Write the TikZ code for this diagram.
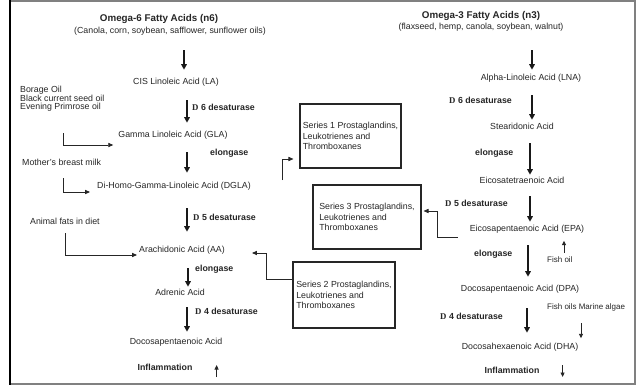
\documentclass[tikz,border=0pt]{standalone}
\usepackage{fontspec}
\setmainfont{Liberation Sans}
\newfontfamily\dfont{Liberation Serif}
\usetikzlibrary{arrows.meta}
\begin{document}
\begin{tikzpicture}[x=1pt,y=-1pt,
  t/.style={font=\fontsize{8.8}{10}\selectfont, inner sep=0pt, text=black!85, text height=6.4pt, text depth=1.8pt},
  tb/.style={t, font=\fontsize{8.8}{10}\selectfont\bfseries},
  tsm/.style={t, font=\fontsize{8}{9}\selectfont},
  ttl/.style={t, font=\fontsize{9.8}{11}\selectfont\bfseries},
  grp/.style={font=\fontsize{8.8}{7.8}\selectfont, inner sep=0pt, text=black!85, align=left},
  sbox/.style={draw=black!85, line width=1.1pt, font=\fontsize{8.8}{10.2}\selectfont, text=black!85, align=left, inner sep=0pt},
  arr/.style={draw=black!90, line width=1.6pt, -{Triangle[length=5.5pt,width=5.5pt]}},
  elb/.style={draw=black!85, line width=0.9pt, -{Triangle[length=5pt,width=4.2pt]}},
  sarr/.style={draw=black!85, line width=0.9pt, -{Triangle[length=4.5pt,width=4pt]}}
]
\useasboundingbox (0,0) rectangle (636,385);
\fill[white] (0,0) rectangle (636,385);
% frame
\draw[black!50, line width=2pt] (10,1) -- (635,1) -- (635,384) -- (10,384);
\draw[black, line width=2.6pt] (10,0) -- (10,385);

% column coordinates
\coordinate (L1) at (184,0);
\coordinate (L2) at (187,0);
\coordinate (L3) at (188,0);
\coordinate (R1) at (532,0);
\coordinate (R2) at (530,0);
\coordinate (R3) at (528,0);
\coordinate (R4) at (527,0);

% left column
\node[ttl] (n6t) at (159,19) {Omega-6 Fatty Acids (n6)};
\node[t] (n6s) at (170,31) {(Canola, corn, soybean, safflower, sunflower oils)};
\node[t] (LA) at (176,82) {CIS Linoleic Acid (LA)};
\node[grp, anchor=north west] (bor) at (20,86) {Borage Oil\\Black current seed oil\\Evening Primrose oil};
\node[t] (GLA) at (173,135) {Gamma Linoleic Acid (GLA)};
\node[t, anchor=west] (milk) at (22,163) {Mother's breast milk};
\node[t] (DGLA) at (174,186) {Di-Homo-Gamma-Linoleic Acid (DGLA)};
\node[t, anchor=west] (fats) at (30,222) {Animal fats in diet};
\node[t] (AA) at (182,250) {Arachidonic Acid (AA)};
\node[t] (adr) at (180,293) {Adrenic Acid};
\node[t] (dpl) at (176,342) {Docosapentaenoic Acid};
\node[tb] (inf6) at (165,368) {Inflammation};

\node[tb, anchor=west] (d6l) at (192,108) {{\dfont D} 6 desaturase};
\node[tb, anchor=west] (el1) at (210,153) {elongase};
\node[tb, anchor=west] (d5l) at (193,218) {{\dfont D} 5 desaturase};
\node[tb, anchor=west] (el2) at (195,269) {elongase};
\node[tb, anchor=west] (d4l) at (195,312) {{\dfont D} 4 desaturase};

% boxes
\node[sbox, minimum width=101pt, minimum height=64pt] (S1) at (350.5,136) {Series 1 Prostaglandins,\\Leukotrienes and\\Thromboxanes};
\node[sbox, minimum width=108pt, minimum height=64pt] (S3) at (367,217) {Series 3 Prostaglandins,\\Leukotrienes and\\Thromboxanes};
\node[sbox, minimum width=102pt, minimum height=66pt] (S2) at (344,295) {Series 2 Prostaglandins,\\Leukotrienes and\\Thromboxanes};

% right column
\node[ttl] (n3t) at (481,16) {Omega-3 Fatty Acids (n3)};
\node[t] (n3s) at (481,27) {(flaxseed, hemp, canola, soybean, walnut)};
\node[t] (LNA) at (531,78) {Alpha-Linoleic Acid (LNA)};
\node[t] (ste) at (522,127) {Stearidonic Acid};
\node[t] (eta) at (522,181) {Eicosatetraenoic Acid};
\node[t] (EPA) at (527,229) {Eicosapentaenoic Acid (EPA)};
\node[t] (DPA) at (520,289) {Docosapentaenoic Acid (DPA)};
\node[t] (DHA) at (520,347) {Docosahexaenoic Acid (DHA)};
\node[tb] (inf3) at (512,371) {Inflammation};

\node[tb, anchor=west] (d6r) at (449,101) {{\dfont D} 6 desaturase};
\node[tb, anchor=west] (el3) at (475,153) {elongase};
\node[tb, anchor=west] (d5r) at (445,204) {{\dfont D} 5 desaturase};
\node[tb, anchor=west] (el4) at (474,254) {elongase};
\node[tb, anchor=west] (d4r) at (440,317) {{\dfont D} 4 desaturase};
\node[tsm, anchor=west] (fo) at (547,260) {Fish oil};
\node[tsm, anchor=west] (fma) at (547,307) {Fish oils Marine algae};

% main arrows left
\draw[arr, shorten <=15pt, shorten >=8pt] (L1 |- n6s.south) -- (L1 |- LA.north);
\draw[arr, shorten <=14pt, shorten >=8pt] (L2 |- LA.south) -- (L2 |- GLA.north);
\draw[arr, shorten <=13pt, shorten >=9pt] (L2 |- GLA.south) -- (L2 |- DGLA.north);
\draw[arr, shorten <=18pt, shorten >=14pt] (L2 |- DGLA.south) -- (L2 |- AA.north);
\draw[arr, shorten <=14pt, shorten >=2pt] (L3 |- AA.south) -- (L3 |- adr.north);
\draw[arr, shorten <=10pt, shorten >=6pt] (L2 |- adr.south) -- (L2 |- dpl.north);

% main arrows right
\draw[arr, shorten <=19pt, shorten >=4pt] (R1 |- n3s.south) -- (R1 |- LNA.north);
\draw[arr, shorten <=13pt, shorten >=3pt] (R1 |- LNA.south) -- (R1 |- ste.north);
\draw[arr, shorten <=12pt, shorten >=2pt] (R2 |- ste.south) -- (R2 |- eta.north);
\draw[arr, shorten <=11pt, shorten >=3pt] (R2 |- eta.south) -- (R2 |- EPA.north);
\draw[arr, shorten <=12pt, shorten >=8pt] (R3 |- EPA.south) -- (R3 |- DPA.north);
\draw[arr, shorten <=15pt, shorten >=10pt] (R4 |- DPA.south) -- (R4 |- DHA.north);

% elbow arrows
\coordinate (b1) at (63,133);
\coordinate (b2) at (63,178);
\coordinate (b3) at (65,233);
\coordinate (b4) at (282,180);
\draw[elb] (b1) |- ([xshift=-5pt,yshift=-10pt]GLA.west);
\draw[elb] (b2) |- ([xshift=-7pt,yshift=-6pt]DGLA.west);
\draw[elb] (b3) |- ([xshift=-2pt,yshift=-5pt]AA.west);
\draw[elb, shorten >=6pt] (b4) |- ([yshift=-23pt]S1.west);
\draw[elb] ([yshift=16pt]S2.west) -- ++(-26,0) |- ([xshift=27pt,yshift=-3pt]AA.east);
\draw[elb, shorten >=2pt] ([xshift=-12pt,yshift=-8pt]EPA.west) -- ++(-20,0) |- ([yshift=6pt]S3.east);

% small arrows
\draw[sarr] ([xshift=17pt,yshift=3pt]fo.north west) -- ++(0,-12);
\draw[sarr] ([xshift=34pt,yshift=-12pt]fma.south west) -- ++(0,15);
\draw[sarr] ([xshift=24pt,yshift=-9pt]inf6.east) -- ++(0,-12);
\draw[sarr] ([xshift=23pt,yshift=6pt]inf3.east) -- ++(0,12);
\end{tikzpicture}
\end{document}
